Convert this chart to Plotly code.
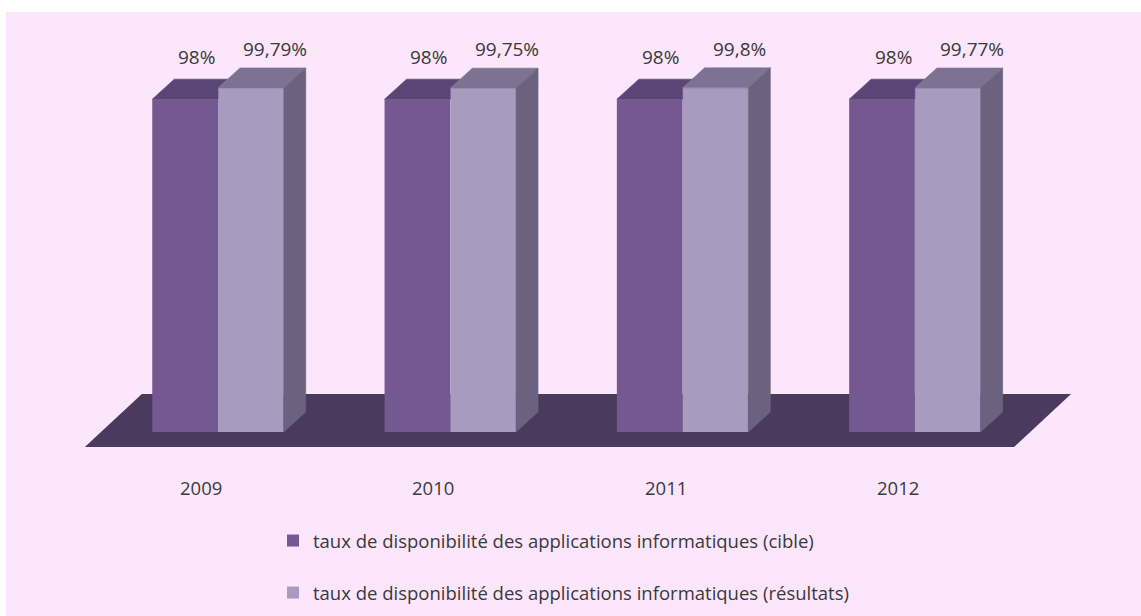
import plotly.graph_objects as go

# ---------------- data ----------------
years = ["2009", "2010", "2011", "2012"]
cible = [98, 98, 98, 98]
resultats = [99.79, 99.75, 99.8, 99.77]
cible_labels = ["98%", "98%", "98%", "98%"]
resultats_labels = ["99,79%", "99,75%", "99,8%", "99,77%"]
series_names = [
    "taux de disponibilité des applications informatiques (cible)",
    "taux de disponibilité des applications informatiques (résultats)",
]

# ---------------- style / layout constants ----------------
W, H = 1141, 616
ML, MT = 6, 12
PX_PER_CAT = 232.3      # pixels per category step
PX_PER_UNIT = 6.28      # pixels per value unit
BASE = 45.0             # value at which bars start (hidden axis)
CAT0_PX = 218           # pixel x of first category (bar front plane)
BASE_PX = 432           # pixel y of bar bottoms
BAR_W = 0.283
DX = 22 / PX_PER_CAT    # depth offset (x)
DY = 20 / PX_PER_UNIT   # depth offset (y)

BG = "#fce6fc"
DARK_FRONT = "#735891"
DARK_TOP = "#5a4577"
LIGHT_FRONT = "#a99bc0"
LIGHT_TOP = "#7e7292"
LIGHT_SIDE = "#6c6280"
FLOOR = "#4a3a5e"
TXT = "#3a3a3a"
FONT = "Open Sans"

x_rng = [(ML - CAT0_PX) / PX_PER_CAT, (W - CAT0_PX) / PX_PER_CAT]
y_rng = [BASE - (H - BASE_PX) / PX_PER_UNIT, BASE + (BASE_PX - MT) / PX_PER_UNIT]

n = len(years)
xs = list(range(n))

fig = go.Figure()

# front faces as bars
fig.add_trace(go.Bar(
    x=xs, y=[v - BASE for v in cible], base=BASE, offset=-BAR_W, width=BAR_W,
    marker=dict(color=DARK_FRONT, line=dict(width=0)),
    name=series_names[0], legendgroup="a", hoverinfo="skip",
))
fig.add_trace(go.Bar(
    x=xs, y=[v - BASE for v in resultats], base=BASE, offset=0, width=BAR_W,
    marker=dict(color=LIGHT_FRONT, line=dict(width=0)),
    name=series_names[1], legendgroup="b", hoverinfo="skip",
))

def poly(px, py, color):
    fig.add_trace(go.Scatter(
        x=px + [px[0]], y=py + [py[0]], mode="lines", fill="toself",
        fillcolor=color, line=dict(color=color, width=0.6),
        showlegend=False, hoverinfo="skip",
    ))

for i in range(n):
    vd, vl = cible[i], resultats[i]
    xl = i - BAR_W
    xm = i
    xr = i + BAR_W
    # dark top (visible part, clipped by the light bar)
    if vl < vd + DY:
        xt = xm + (vd + DY - vl) * DX / DY
        poly([xl, xm, xm, xt, xl + DX], [vd, vd, vl, vd + DY, vd + DY], DARK_TOP)
    else:
        poly([xl, xm, xm, xl + DX], [vd, vd, vd + DY, vd + DY], DARK_TOP)
    # light top
    poly([xm, xr, xr + DX, xm + DX], [vl, vl, vl + DY, vl + DY], LIGHT_TOP)
    # light side
    poly([xr, xr + DX, xr + DX, xr], [BASE, BASE + DY, vl + DY, vl], LIGHT_SIDE)

# floor
f_front_y = BASE - 15 / PX_PER_UNIT
f_back_y = BASE + 38 / PX_PER_UNIT
f_shift = 17 / PX_PER_CAT
f_depth = 57 / PX_PER_CAT
fx0 = -0.5 - f_shift
fx1 = n - 0.5 - f_shift
fig.add_shape(
    type="path", xref="x", yref="y", layer="below",
    path=(f"M {fx0},{f_front_y} L {fx1},{f_front_y} "
          f"L {fx1 + f_depth},{f_back_y} L {fx0 + f_depth},{f_back_y} Z"),
    fillcolor=FLOOR, line=dict(width=0),
)

# value labels
for i in range(n):
    fig.add_annotation(
        x=i - BAR_W / 2 + DX / 2, y=cible[i] + DY, text=cible_labels[i],
        showarrow=False, yshift=22, font=dict(family=FONT, size=19, color=TXT),
    )
    fig.add_annotation(
        x=i + BAR_W / 2 + DX / 2, y=resultats[i] + DY, text=resultats_labels[i],
        showarrow=False, yshift=19, xshift=13, font=dict(family=FONT, size=19, color=TXT),
    )

# category labels
year_y = BASE - (487 - BASE_PX) / PX_PER_UNIT
for i, yr in enumerate(years):
    fig.add_annotation(
        x=i - f_shift, y=year_y, text=yr, showarrow=False,
        font=dict(family=FONT, size=18.5, color=TXT),
    )

fig.update_layout(
    width=W, height=H,
    margin=dict(l=ML, r=0, t=MT, b=0, pad=0),
    paper_bgcolor="white", plot_bgcolor=BG,
    barmode="overlay",
    xaxis=dict(range=x_rng, visible=False, fixedrange=True),
    yaxis=dict(range=y_rng, visible=False, fixedrange=True),
    legend=dict(
        x=(273 - ML) / (W - ML), xanchor="left",
        y=1 - (522 - MT) / (H - MT), yanchor="top",
        bgcolor="rgba(0,0,0,0)", tracegroupgap=25,
        font=dict(family=FONT, size=18.5, color=TXT),
    ),
    showlegend=True,
)

fig.write_html("out.html")
